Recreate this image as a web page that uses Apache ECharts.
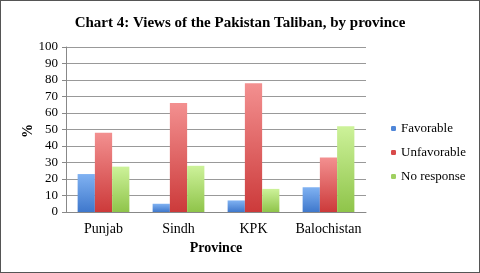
<!DOCTYPE html>
<html><head><meta charset="utf-8">
<script src="https://cdn.jsdelivr.net/npm/echarts@6/dist/echarts.min.js"></script>
<style>html,body{margin:0;padding:0;background:#fff}#c{width:480px;height:273px;box-sizing:border-box;border:1.5px solid #555}</style>
</head><body><div id="c"></div>
<script>
const categories = ['Punjab','Sindh','KPK','Balochistan'];
const favorable = [23, 5, 7, 15];
const unfavorable = [48, 66, 78, 33];
const noResponse = [27.5, 28, 14, 52];
const yTicks = [0,10,20,30,40,50,60,70,80,90,100];
const yAxisTitle = '%';

const font = 'Liberation Serif';
function grad(top, bottom){
  return new echarts.graphic.LinearGradient(0,0,0,1,[{offset:0,color:top},{offset:1,color:bottom}]);
}
const chart = echarts.init(document.getElementById('c'));
chart.setOption({
  animation:false,
  title:{text:'Chart 4: Views of the Pakistan Taliban, by province',left:'center',top:10,
    textStyle:{fontFamily:font,fontWeight:'bold',fontSize:15,color:'#000'}},
  legend:{orient:'vertical',left:385,top:116,itemWidth:5,itemHeight:5,itemGap:11,
    textStyle:{fontFamily:font,fontSize:13,color:'#000'},
    data:[{name:'Favorable',itemStyle:{color:'#4f86d8'}},{name:'Unfavorable',itemStyle:{color:'#d84a4a'}},{name:'No response',itemStyle:{color:'#9fd060'}}]},
  graphic:[{type:'text',x:27,y:130,rotation:Math.PI/2,
    style:{text:yAxisTitle,font:'bold 14px "Liberation Serif"',fill:'#000',textAlign:'center',textVerticalAlign:'middle'}}],
  grid:{left:65,right:113,top:46,bottom:60},
  xAxis:{type:'category',data:categories,name:'Province',nameLocation:'middle',nameGap:29,
    nameTextStyle:{fontFamily:font,fontWeight:'bold',fontSize:14,color:'#000'},
    axisLine:{lineStyle:{color:'#888'}},axisTick:{show:false},
    axisLabel:{interval:0,fontFamily:font,fontSize:14,color:'#000',margin:10}},
  yAxis:{type:'value',min:0,max:100,interval:10,
    axisLine:{show:true,lineStyle:{color:'#888'}},axisTick:{show:true,length:4,lineStyle:{color:'#888'}},
    axisLabel:{fontFamily:font,fontSize:13,color:'#000',margin:8,formatter:v=>yTicks.includes(v)?String(v):''},
    splitLine:{lineStyle:{color:'#999'}}},
  series:[
    {name:'Favorable',type:'bar',data:favorable,barGap:'0%',barCategoryGap:'31%',itemStyle:{color:grad('#80b2f2','#3f78cc')}},
    {name:'Unfavorable',type:'bar',data:unfavorable,itemStyle:{color:grad('#f39090','#cc3a3a')}},
    {name:'No response',type:'bar',data:noResponse,itemStyle:{color:grad('#cdf29a','#8fc44a')}}
  ]
});
</script></body></html>
